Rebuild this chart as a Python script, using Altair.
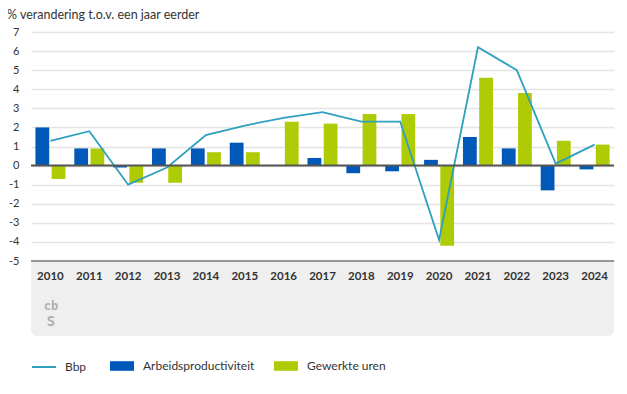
import altair as alt
import pandas as pd

years = [str(y) for y in range(2010, 2025)]
bbp = [1.3, 1.8, -1.0, -0.1, 1.6, 2.1, 2.5, 2.8, 2.3, 2.3, -3.9, 6.2, 5.0, 0.1, 1.1]
arbeid = [2.0, 0.9, -0.1, 0.9, 0.9, 1.2, 0.0, 0.4, -0.4, -0.3, 0.3, 1.5, 0.9, -1.3, -0.2]
uren = [-0.7, 0.9, -0.9, -0.9, 0.7, 0.7, 2.3, 2.2, 2.7, 2.7, -4.2, 4.6, 3.8, 1.3, 1.1]
y_ticks = [-5, -4, -3, -2, -1, 0, 1, 2, 3, 4, 5, 6, 7]
series = ["Arbeidsproductiviteit", "Gewerkte uren"]
colors = ["#0058b8", "#afcb05"]
line_color = "#2fa0bd"
FONT = "Lato"

bars_df = pd.DataFrame(
    [{"year": y, "series": series[0], "value": v} for y, v in zip(years, arbeid)]
    + [{"year": y, "series": series[1], "value": v} for y, v in zip(years, uren)]
)
line_df = pd.DataFrame({"year": years, "value": bbp, "name": ["Bbp"] * len(years)})

W, H = 583, 229

x = alt.X(
    "year:N", sort=years,
    scale=alt.Scale(paddingInner=0.228, paddingOuter=0.114),
    axis=alt.Axis(title=None, labelAngle=0, domain=False, ticks=False, labelPadding=9,
                  labelFontSize=11.5, labelFontWeight="bold", labelColor="#333", zindex=1,
                  labelFont=FONT),
)
y = alt.Y(
    "value:Q",
    scale=alt.Scale(domain=[-5, 7], nice=False, zero=False),
    axis=alt.Axis(values=y_ticks, title=None, domain=False, ticks=False,
                  labelPadding=12, gridColor="#e4e4e4", gridWidth=1.5, labelFontSize=11,
                  labelColor="#333", labelFont=FONT, labelOverlap=False,
                  labelExpr="'' + datum.value"),
)

band = alt.Chart(pd.DataFrame({"a": [0]})).mark_rect(
    color="#efefef", cornerRadiusBottomLeft=6, cornerRadiusBottomRight=6
).encode(x=alt.value(0), x2=alt.value(W), y=alt.value(H), y2=alt.value(H + 75))

bars = alt.Chart(bars_df).mark_bar().encode(
    x=x,
    xOffset=alt.XOffset("series:N", sort=series, scale=alt.Scale(paddingInner=0.15)),
    y=y,
    fill=alt.Fill(
        "series:N", sort=series,
        scale=alt.Scale(domain=series, range=colors),
        legend=alt.Legend(
            title=None, orient="none", legendX=79, legendY=322, direction="horizontal",
            columns=2, columnPadding=19, symbolType="M-1,-0.4H1V0.4H-1Z", symbolSize=576,
            symbolStrokeWidth=0, labelOffset=9, labelFontSize=12, labelColor="#333",
            labelFont=FONT, padding=0,
        ),
    ),
)

line = alt.Chart(line_df).mark_line(strokeWidth=1.8).encode(
    x=x,
    y=y,
    stroke=alt.Stroke(
        "name:N",
        scale=alt.Scale(domain=["Bbp"], range=[line_color]),
        legend=alt.Legend(
            title=None, orient="none", legendX=0, legendY=322, symbolType="stroke",
            symbolSize=576, symbolStrokeWidth=2, labelOffset=8, labelFontSize=12,
            labelColor="#333", labelFont=FONT, padding=0,
        ),
    ),
)

zero = alt.Chart(pd.DataFrame({"value": [0]})).mark_rule(color="#555", strokeWidth=2).encode(y=y)
bottom = alt.Chart(pd.DataFrame({"value": [-5]})).mark_rule(color="#777", strokeWidth=1.5).encode(y=y)

logo_top = alt.Chart(pd.DataFrame({"t": ["cb"]})).mark_text(
    font="DejaVu Sans Mono", fontSize=12, fontWeight="bold", color="#b0b0b0", align="center",
    baseline="top",
).encode(x=alt.value(20), y=alt.value(H + 40), text="t:N")
logo_bot = alt.Chart(pd.DataFrame({"t": ["S"]})).mark_text(
    font="DejaVu Sans Mono", fontSize=14, fontWeight="bold", color="#b0b0b0", align="center",
    baseline="top",
).encode(x=alt.value(20), y=alt.value(H + 54), text="t:N")

chart = alt.layer(band, bars, line, zero, bottom, logo_top, logo_bot).properties(
    width=W, height=H,
    autosize=alt.AutoSizeParams(type="none"),
    padding={"left": 23, "top": 24, "right": 5, "bottom": 125},
    title=alt.TitleParams(
        "% verandering t.o.v. een jaar eerder", anchor="start", frame="group", dx=-24,
        offset=5, fontSize=12.5, fontWeight="normal", color="#333", font=FONT,
    ),
).configure_view(stroke=None)

chart.save("out.html", embed_options={"renderer": "svg", "actions": False})
